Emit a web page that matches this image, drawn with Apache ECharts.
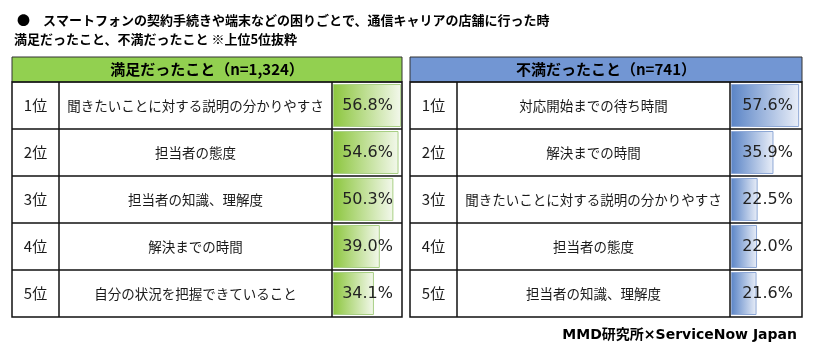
<!DOCTYPE html>
<html>
<head>
<meta charset="utf-8">
<script src="https://cdn.jsdelivr.net/npm/echarts@6/dist/echarts.min.js"></script>
<style>html,body{margin:0;padding:0;background:#fff}#c{width:814px;height:353px}</style>
</head>
<body>
<div id="c"></div>
<script>
const titleLine1 = '●　スマートフォンの契約手続きや端末などの困りごとで、通信キャリアの店舗に行った時';
const titleLine2 = '満足だったこと、不満だったこと ※上位5位抜粋';
const sourceText = 'MMD研究所×ServiceNow Japan';
const ranks = ['1位', '2位', '3位', '4位', '5位'];
const leftHeader = '満足だったこと（n=1,324）';
const leftItems = ['聞きたいことに対する説明の分かりやすさ', '担当者の態度', '担当者の知識、理解度', '解決までの時間', '自分の状況を把握できていること'];
const leftValues = [56.8, 54.6, 50.3, 39.0, 34.1];
const rightHeader = '不満だったこと（n=741）';
const rightItems = ['対応開始までの待ち時間', '解決までの時間', '聞きたいことに対する説明の分かりやすさ', '担当者の態度', '担当者の知識、理解度'];
const rightValues = [57.6, 35.9, 22.5, 22.0, 21.6];

const chart = echarts.init(document.getElementById('c'));
const CJK = '"Noto Sans CJK JP", sans-serif';
const headTop = 57, tableTop = 82, rowH = 47, nRows = 5;
const tableBottom = tableTop + rowH * nRows;

const panels = [
  {x0: 12, c1: 59, c2: 332, x1: 402, max: 57.5, header: leftHeader, items: leftItems, values: leftValues,
   headFill: '#92d050', grad: ['#8cc63e', '#f3f8ec'], barStroke: '#a8cf84'},
  {x0: 410, c1: 457, c2: 730, x1: 802, max: 60, header: rightHeader, items: rightItems, values: rightValues,
   headFill: '#7296d3', grad: ['#5a84c6', '#e9eef8'], barStroke: '#8ea8d6'}
];

const grids = [], xAxes = [], yAxes = [], series = [], graphics = [];
panels.forEach((p, i) => {
  const gl = p.c2 + 1;
  grids.push({left: gl, top: tableTop, width: p.x1 - gl, height: rowH * nRows});
  xAxes.push({type: 'value', gridIndex: i, min: 0, max: p.max, show: false});
  const base = {type: 'category', gridIndex: i, inverse: true, z: 10, axisLine: {show: false}, axisTick: {show: false}, splitLine: {show: false}};
  yAxes.push(Object.assign({}, base, {data: p.items, position: 'left',
    axisLabel: {interval: 0, align: 'center', margin: gl - (p.c1 + p.c2) / 2, fontFamily: CJK, fontSize: 13.5, color: '#1a1a1a'}}));
  yAxes.push(Object.assign({}, base, {data: ranks, position: 'left',
    axisLabel: {interval: 0, align: 'center', margin: gl - (p.x0 + p.c1) / 2, fontFamily: CJK, fontSize: 15, color: '#1a1a1a'}}));
  yAxes.push(Object.assign({}, base, {data: p.values.map(v => v.toFixed(1) + '%'), position: 'right',
    axisLabel: {interval: 0, inside: true, align: 'right', margin: 9, fontFamily: '"DejaVu Sans", sans-serif', fontSize: 16, color: '#222'}}));
  series.push({type: 'bar', xAxisIndex: i, yAxisIndex: i * 3, data: p.values, barWidth: 43, silent: true, z: 1,
    itemStyle: {color: new echarts.graphic.LinearGradient(0, 0, 1, 0, [{offset: 0, color: p.grad[0]}, {offset: 1, color: p.grad[1]}]),
      borderColor: p.barStroke, borderWidth: 1}});
  graphics.push({type: 'rect', shape: {x: p.x0, y: headTop, width: p.x1 - p.x0, height: tableTop - headTop},
    style: {fill: p.headFill, stroke: '#333', lineWidth: 1}, z: 10});
  graphics.push({type: 'text', x: (p.x0 + p.x1) / 2, y: (headTop + tableTop) / 2, z: 11,
    style: {text: p.header, fontFamily: CJK, fontWeight: 'bold', fontSize: 15, fill: '#000', align: 'center', verticalAlign: 'middle'}});
  graphics.push({type: 'rect', shape: {x: p.x0, y: tableTop, width: p.x1 - p.x0, height: tableBottom - tableTop},
    style: {fill: 'none', stroke: '#111', lineWidth: 1.5}, z: 10});
  for (let r = 1; r < nRows; r++) {
    graphics.push({type: 'line', shape: {x1: p.x0, y1: tableTop + rowH * r, x2: p.x1, y2: tableTop + rowH * r},
      style: {stroke: '#111', lineWidth: 1.5}, z: 10});
  }
  [p.c1, p.c2].forEach(cx => graphics.push({type: 'line', shape: {x1: cx, y1: tableTop, x2: cx, y2: tableBottom},
    style: {stroke: '#111', lineWidth: 1.5}, z: 10}));
});

graphics.push({type: 'text', x: 17, y: 20, style: {text: titleLine1, fontFamily: CJK, fontWeight: 'bold', fontSize: 13, fill: '#000', verticalAlign: 'middle'}});
graphics.push({type: 'text', x: 14, y: 39, style: {text: titleLine2, fontFamily: CJK, fontWeight: 'bold', fontSize: 13, fill: '#000', verticalAlign: 'middle'}});
graphics.push({type: 'text', x: 797, y: 335, style: {text: sourceText, fontFamily: '"DejaVu Sans", "Noto Sans CJK JP", sans-serif', fontWeight: 'bold', fontSize: 14, fill: '#000', align: 'right', verticalAlign: 'middle'}});

chart.setOption({
  animation: false,
  grid: grids, xAxis: xAxes, yAxis: yAxes, series: series, graphic: graphics
});
</script>
</body>
</html>
